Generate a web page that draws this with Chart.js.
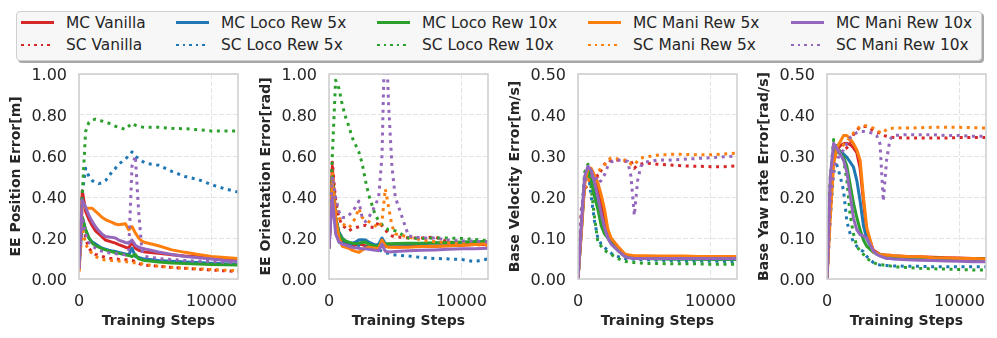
<!DOCTYPE html>
<html>
<head>
<meta charset="utf-8">
<script src="https://cdn.jsdelivr.net/npm/chart.js@4.4.0/dist/chart.umd.min.js"></script>
<style>
    html, body { margin: 0; padding: 0; background: #fff; }
    body { width: 997px; height: 338px; position: relative; overflow: hidden; font-family: 'DejaVu Sans', sans-serif; }
    canvas.panel { position: absolute; top: 62px; }
    #legend {
        position: absolute; left: 16px; top: 11px; width: 964px; height: 48px;
        border: 1px solid #cfcfcf; border-radius: 4px; background: #f7f7f7;
        box-shadow: 2px 2px 0 #a8a8a8;
    }
    .item { position: absolute; display: flex; align-items: center; height: 20px; font-size: 15.4px; color: #262626; white-space: nowrap; }
    .swatch { width: 33px; height: 2.8px; margin-right: 12px; }
</style>
</head>
<body>
<div id="legend"></div>
<canvas class="panel" id="c1" width="248" height="276" style="left:0px"></canvas>
<canvas class="panel" id="c2" width="248" height="276" style="left:250px"></canvas>
<canvas class="panel" id="c3" width="248" height="276" style="left:499px"></canvas>
<canvas class="panel" id="c4" width="248" height="276" style="left:748px"></canvas>
<script>
// sumbu x bersama untuk semua panel
const STEPS = [0, 250, 500, 750, 1000, 1250, 1500, 1750, 2000, 2250, 2500, 2750, 3000, 3500, 3750,
    4000, 4250, 4500, 4750, 5000, 6000, 7000, 8000, 9000, 10000, 11000, 12000];
const X_TICKS = [0, 10000];
const EE_TICKS = [0, 0.2, 0.4, 0.6, 0.8, 1.0];
const BASE_TICKS = [0, 0.1, 0.2, 0.3, 0.4, 0.5];

const METHODS = ['Vanilla', 'Loco Rew 5x', 'Loco Rew 10x', 'Mani Rew 5x', 'Mani Rew 10x'];
const COLORS = ['#d62728', '#1f77b4', '#2ca02c', '#ff7f0e', '#9467bd'];

// 1. EE Position Error
const posMcVanilla = [0.05, 0.43, 0.33, 0.29, 0.26, 0.235, 0.22, 0.205, 0.19, 0.185, 0.18, 0.175, 0.168, 0.155, 0.15, 0.18, 0.15, 0.14, 0.135, 0.132, 0.125, 0.118, 0.112, 0.108, 0.105, 0.1, 0.098];
const posScVanilla = [0.05, 0.3, 0.2, 0.15, 0.13, 0.12, 0.115, 0.11, 0.105, 0.1, 0.1, 0.098, 0.096, 0.094, 0.093, 0.09, 0.085, 0.075, 0.07, 0.068, 0.062, 0.056, 0.052, 0.048, 0.044, 0.04, 0.036];
const posMcLoco5 = [0.05, 0.3, 0.24, 0.2, 0.18, 0.17, 0.16, 0.15, 0.145, 0.14, 0.137, 0.134, 0.13, 0.122, 0.118, 0.15, 0.11, 0.105, 0.1, 0.097, 0.09, 0.087, 0.083, 0.08, 0.077, 0.074, 0.072];
const posScLoco5 = [0.05, 0.42, 0.54, 0.5, 0.48, 0.47, 0.465, 0.47, 0.48, 0.5, 0.525, 0.54, 0.56, 0.585, 0.6, 0.62, 0.6, 0.585, 0.575, 0.565, 0.555, 0.525, 0.5, 0.485, 0.46, 0.44, 0.424];
const posMcLoco10 = [0.05, 0.3, 0.24, 0.2, 0.175, 0.162, 0.155, 0.148, 0.142, 0.137, 0.133, 0.128, 0.125, 0.118, 0.115, 0.11, 0.12, 0.098, 0.093, 0.09, 0.083, 0.078, 0.075, 0.073, 0.071, 0.069, 0.068];
const posScLoco10 = [0.05, 0.42, 0.72, 0.765, 0.775, 0.78, 0.775, 0.77, 0.765, 0.76, 0.755, 0.745, 0.74, 0.73, 0.745, 0.76, 0.75, 0.745, 0.742, 0.74, 0.74, 0.735, 0.733, 0.728, 0.722, 0.722, 0.722];
const posMcMani5 = [0.035, 0.37, 0.345, 0.345, 0.345, 0.33, 0.315, 0.3, 0.29, 0.282, 0.276, 0.268, 0.265, 0.27, 0.24, 0.256, 0.225, 0.2, 0.185, 0.178, 0.162, 0.142, 0.13, 0.12, 0.11, 0.105, 0.1];
const posScMani5 = [0.04, 0.25, 0.17, 0.14, 0.125, 0.11, 0.1, 0.095, 0.093, 0.092, 0.09, 0.09, 0.088, 0.085, 0.082, 0.08, 0.079, 0.077, 0.074, 0.07, 0.062, 0.057, 0.053, 0.05, 0.046, 0.043, 0.04];
const posMcMani10 = [0.05, 0.385, 0.35, 0.31, 0.28, 0.255, 0.235, 0.218, 0.207, 0.205, 0.203, 0.2, 0.19, 0.178, 0.174, 0.19, 0.165, 0.155, 0.15, 0.146, 0.132, 0.12, 0.11, 0.104, 0.097, 0.09, 0.085];
const posScMani10 = [0.05, 0.3, 0.22, 0.18, 0.16, 0.15, 0.14, 0.135, 0.13, 0.128, 0.126, 0.124, 0.12, 0.118, 0.14, 0.55, 0.6, 0.33, 0.14, 0.11, 0.1, 0.095, 0.09, 0.087, 0.085, 0.082, 0.08];

// 2. EE Orientation Error
const oriMcVanilla = [0.15, 0.55, 0.3, 0.22, 0.19, 0.175, 0.17, 0.165, 0.165, 0.17, 0.168, 0.162, 0.155, 0.15, 0.152, 0.18, 0.16, 0.158, 0.157, 0.156, 0.158, 0.16, 0.16, 0.162, 0.165, 0.168, 0.17];
const oriScVanilla = [0.15, 0.57, 0.38, 0.3, 0.26, 0.25, 0.235, 0.245, 0.25, 0.255, 0.26, 0.262, 0.255, 0.25, 0.28, 0.26, 0.24, 0.22, 0.21, 0.207, 0.2, 0.2, 0.205, 0.18, 0.175, 0.17, 0.166];
const oriMcLoco5 = [0.15, 0.45, 0.3, 0.23, 0.2, 0.185, 0.175, 0.175, 0.18, 0.19, 0.192, 0.19, 0.18, 0.165, 0.17, 0.2, 0.172, 0.17, 0.17, 0.17, 0.17, 0.172, 0.175, 0.175, 0.178, 0.18, 0.18];
const oriScLoco5 = [0.15, 0.42, 0.26, 0.2, 0.18, 0.175, 0.17, 0.168, 0.166, 0.163, 0.16, 0.157, 0.155, 0.15, 0.145, 0.135, 0.128, 0.125, 0.12, 0.117, 0.112, 0.105, 0.1, 0.098, 0.095, 0.085, 0.098];
const oriMcLoco10 = [0.15, 0.5, 0.3, 0.22, 0.195, 0.185, 0.18, 0.175, 0.172, 0.175, 0.178, 0.18, 0.17, 0.16, 0.162, 0.185, 0.17, 0.172, 0.172, 0.173, 0.175, 0.175, 0.177, 0.178, 0.18, 0.182, 0.183];
const oriScLoco10 = [0.15, 0.6, 0.97, 0.93, 0.85, 0.79, 0.745, 0.69, 0.655, 0.62, 0.565, 0.48, 0.41, 0.31, 0.285, 0.265, 0.25, 0.24, 0.24, 0.235, 0.2, 0.198, 0.2, 0.2, 0.198, 0.193, 0.186];
const oriMcMani5 = [0.15, 0.47, 0.3, 0.2, 0.16, 0.155, 0.15, 0.14, 0.135, 0.13, 0.14, 0.15, 0.155, 0.15, 0.15, 0.19, 0.16, 0.155, 0.155, 0.155, 0.155, 0.158, 0.16, 0.162, 0.165, 0.168, 0.172];
const oriScMani5 = [0.15, 0.52, 0.37, 0.3, 0.27, 0.26, 0.25, 0.27, 0.3, 0.345, 0.3, 0.29, 0.28, 0.26, 0.25, 0.28, 0.44, 0.35, 0.26, 0.22, 0.205, 0.19, 0.182, 0.178, 0.174, 0.168, 0.163];
const oriMcMani10 = [0.15, 0.4, 0.22, 0.18, 0.17, 0.165, 0.16, 0.155, 0.152, 0.15, 0.148, 0.147, 0.145, 0.14, 0.138, 0.17, 0.135, 0.132, 0.133, 0.134, 0.138, 0.14, 0.142, 0.145, 0.147, 0.148, 0.15];
const oriScMani10 = [0.15, 0.5, 0.4, 0.33, 0.3, 0.3, 0.31, 0.33, 0.35, 0.38, 0.3, 0.28, 0.3, 0.36, 0.4, 0.6, 1.3, 0.85, 0.55, 0.4, 0.21, 0.2, 0.2, 0.19, 0.185, 0.185, 0.18];

// 3. Base Velocity Error
const velMcVanilla = [0, 0.12, 0.24, 0.265, 0.26, 0.24, 0.215, 0.18, 0.14, 0.11, 0.095, 0.085, 0.075, 0.06, 0.057, 0.056, 0.055, 0.055, 0.055, 0.054, 0.054, 0.053, 0.053, 0.053, 0.053, 0.053, 0.053];
const velScVanilla = [0, 0.17, 0.22, 0.23, 0.25, 0.262, 0.25, 0.265, 0.28, 0.29, 0.288, 0.29, 0.29, 0.288, 0.285, 0.287, 0.27, 0.278, 0.28, 0.283, 0.28, 0.278, 0.276, 0.275, 0.274, 0.274, 0.276];
const velMcLoco5 = [0, 0.12, 0.24, 0.26, 0.245, 0.21, 0.18, 0.14, 0.12, 0.1, 0.088, 0.078, 0.07, 0.057, 0.054, 0.052, 0.051, 0.051, 0.05, 0.05, 0.05, 0.049, 0.049, 0.049, 0.048, 0.048, 0.048];
const velScLoco5 = [0, 0.13, 0.25, 0.265, 0.2, 0.14, 0.1, 0.085, 0.077, 0.07, 0.063, 0.058, 0.055, 0.05, 0.049, 0.049, 0.048, 0.048, 0.047, 0.047, 0.046, 0.045, 0.044, 0.044, 0.043, 0.043, 0.042];
const velMcLoco10 = [0, 0.12, 0.24, 0.26, 0.24, 0.2, 0.17, 0.13, 0.11, 0.1, 0.088, 0.078, 0.07, 0.056, 0.053, 0.052, 0.051, 0.05, 0.05, 0.05, 0.049, 0.049, 0.049, 0.048, 0.048, 0.048, 0.048];
const velScLoco10 = [0, 0.14, 0.26, 0.28, 0.22, 0.15, 0.09, 0.08, 0.07, 0.065, 0.06, 0.055, 0.05, 0.043, 0.042, 0.04, 0.04, 0.039, 0.039, 0.038, 0.038, 0.037, 0.037, 0.037, 0.036, 0.036, 0.036];
const velMcMani5 = [0, 0.11, 0.23, 0.27, 0.27, 0.252, 0.235, 0.205, 0.17, 0.122, 0.1, 0.09, 0.08, 0.062, 0.059, 0.058, 0.057, 0.057, 0.057, 0.057, 0.056, 0.056, 0.056, 0.055, 0.055, 0.055, 0.055];
const velScMani5 = [0, 0.15, 0.22, 0.24, 0.25, 0.254, 0.262, 0.27, 0.278, 0.29, 0.295, 0.294, 0.293, 0.29, 0.29, 0.28, 0.278, 0.288, 0.295, 0.297, 0.302, 0.304, 0.304, 0.303, 0.303, 0.305, 0.307];
const velMcMani10 = [0, 0.13, 0.25, 0.275, 0.265, 0.235, 0.2, 0.16, 0.125, 0.1, 0.085, 0.078, 0.07, 0.056, 0.052, 0.051, 0.05, 0.05, 0.05, 0.05, 0.05, 0.05, 0.05, 0.05, 0.05, 0.05, 0.05];
const velScMani10 = [0, 0.16, 0.24, 0.25, 0.25, 0.255, 0.235, 0.24, 0.254, 0.275, 0.285, 0.29, 0.29, 0.288, 0.287, 0.25, 0.155, 0.24, 0.275, 0.285, 0.29, 0.29, 0.292, 0.294, 0.296, 0.298, 0.3];

// 4. Base Yaw rate Error
const yawMcVanilla = [0, 0.2, 0.3, 0.315, 0.325, 0.33, 0.331, 0.328, 0.32, 0.308, 0.27, 0.19, 0.115, 0.07, 0.065, 0.06, 0.059, 0.058, 0.058, 0.057, 0.055, 0.054, 0.053, 0.052, 0.051, 0.05, 0.05];
const yawScVanilla = [0, 0.24, 0.295, 0.3, 0.311, 0.315, 0.32, 0.33, 0.352, 0.362, 0.372, 0.372, 0.372, 0.362, 0.358, 0.356, 0.35, 0.348, 0.346, 0.345, 0.344, 0.344, 0.344, 0.344, 0.345, 0.345, 0.345];
const yawMcLoco5 = [0, 0.2, 0.31, 0.318, 0.312, 0.305, 0.297, 0.285, 0.273, 0.24, 0.19, 0.13, 0.098, 0.066, 0.062, 0.06, 0.058, 0.056, 0.056, 0.055, 0.053, 0.051, 0.05, 0.049, 0.048, 0.047, 0.046];
const yawScLoco5 = [0, 0.15, 0.26, 0.278, 0.25, 0.215, 0.14, 0.11, 0.09, 0.08, 0.072, 0.067, 0.055, 0.04, 0.036, 0.034, 0.033, 0.033, 0.032, 0.032, 0.031, 0.031, 0.03, 0.03, 0.03, 0.03, 0.03];
const yawMcLoco10 = [0, 0.22, 0.315, 0.31, 0.305, 0.298, 0.275, 0.23, 0.185, 0.15, 0.12, 0.095, 0.08, 0.065, 0.062, 0.06, 0.058, 0.056, 0.055, 0.054, 0.053, 0.052, 0.051, 0.05, 0.05, 0.049, 0.049];
const yawScLoco10 = [0.02, 0.25, 0.34, 0.33, 0.31, 0.29, 0.24, 0.155, 0.11, 0.08, 0.068, 0.06, 0.05, 0.04, 0.037, 0.035, 0.034, 0.033, 0.032, 0.03, 0.028, 0.026, 0.025, 0.024, 0.023, 0.022, 0.022];
const yawMcMani5 = [0, 0.15, 0.28, 0.32, 0.335, 0.35, 0.35, 0.342, 0.33, 0.315, 0.29, 0.2, 0.125, 0.066, 0.063, 0.06, 0.059, 0.058, 0.058, 0.057, 0.055, 0.054, 0.052, 0.051, 0.05, 0.05, 0.049];
const yawScMani5 = [0, 0.2, 0.3, 0.31, 0.32, 0.327, 0.335, 0.345, 0.356, 0.365, 0.372, 0.375, 0.373, 0.368, 0.362, 0.358, 0.356, 0.366, 0.367, 0.368, 0.368, 0.369, 0.37, 0.37, 0.37, 0.369, 0.368];
const yawMcMani10 = [0, 0.25, 0.331, 0.318, 0.305, 0.29, 0.26, 0.205, 0.148, 0.12, 0.108, 0.105, 0.1, 0.068, 0.06, 0.056, 0.053, 0.05, 0.05, 0.049, 0.047, 0.046, 0.045, 0.044, 0.043, 0.042, 0.042];
const yawScMani10 = [0, 0.2, 0.27, 0.29, 0.305, 0.315, 0.33, 0.345, 0.352, 0.357, 0.36, 0.36, 0.358, 0.356, 0.35, 0.33, 0.19, 0.29, 0.34, 0.35, 0.352, 0.352, 0.352, 0.35, 0.35, 0.348, 0.348];

const PANELS = [
    { id: 'c1', title: 'EE Position Error[m]', max: 1, ticks: EE_TICKS,
      series: [posMcVanilla, posScVanilla, posMcLoco5, posScLoco5, posMcLoco10, posScLoco10, posMcMani5, posScMani5, posMcMani10, posScMani10] },
    { id: 'c2', title: 'EE Orientation Error[rad]', max: 1, ticks: EE_TICKS,
      series: [oriMcVanilla, oriScVanilla, oriMcLoco5, oriScLoco5, oriMcLoco10, oriScLoco10, oriMcMani5, oriScMani5, oriMcMani10, oriScMani10] },
    { id: 'c3', title: 'Base Velocity Error[m/s]', max: 0.5, ticks: BASE_TICKS,
      series: [velMcVanilla, velScVanilla, velMcLoco5, velScLoco5, velMcLoco10, velScLoco10, velMcMani5, velScMani5, velMcMani10, velScMani10] },
    { id: 'c4', title: 'Base Yaw rate Error[rad/s]', max: 0.5, ticks: BASE_TICKS,
      series: [yawMcVanilla, yawScVanilla, yawMcLoco5, yawScLoco5, yawMcLoco10, yawScLoco10, yawMcMani5, yawScMani5, yawMcMani10, yawScMani10] }
];

const LINE_W = 3;
const DOTS = [3, 4.6];
const TEXT = '#262626';

Chart.defaults.font.family = "'DejaVu Sans', sans-serif";

// bingkai abu-abu di sekeliling area plot
const framePlugin = {
    id: 'frame',
    afterDatasetsDraw(chart) {
        const { ctx, chartArea: a } = chart;
        ctx.save();
        ctx.strokeStyle = '#d0d0d0';
        ctx.lineWidth = 1.6;
        ctx.strokeRect(a.left, a.top, a.right - a.left, a.bottom - a.top);
        ctx.restore();
    }
};

PANELS.forEach(p => {
    new Chart(document.getElementById(p.id), {
        type: 'line',
        data: {
            datasets: p.series.map((vals, k) => ({
                label: (k % 2 ? 'SC ' : 'MC ') + METHODS[k >> 1],
                data: STEPS.map((x, i) => ({ x: x, y: vals[i] })),
                borderColor: COLORS[k >> 1],
                borderWidth: LINE_W,
                borderDash: k % 2 ? DOTS : [],
                borderJoinStyle: 'round',
                pointRadius: 0,
                tension: 0,
                clip: 0,
                order: p.series.length - 1 - k
            }))
        },
        options: {
            responsive: false,
            animation: false,
            devicePixelRatio: 1,
            layout: { padding: { top: 12, right: 10, left: 0, bottom: 0 } },
            plugins: { legend: { display: false }, tooltip: { enabled: false } },
            scales: {
                x: {
                    type: 'linear', min: 0, max: 12000,
                    afterBuildTicks: s => { s.ticks = X_TICKS.map(v => ({ value: v })); },
                    afterFit: s => { s.height = 59; s.paddingLeft = 0; s.paddingRight = 0; },
                    ticks: { callback: v => String(v), color: TEXT, font: { size: 16 }, padding: 13.5, maxRotation: 0 },
                    grid: { color: '#e4e4e4', lineWidth: 1, drawTicks: false },
                    border: { display: false, dash: [5, 2] },
                    title: { display: true, text: 'Training Steps', color: TEXT, font: { size: 14, weight: 'bold' }, padding: { top: 8.5, bottom: 8.5 } }
                },
                y: {
                    min: 0, max: p.max,
                    afterBuildTicks: s => { s.ticks = p.ticks.map(v => ({ value: v })); },
                    afterFit: s => { s.width = 79; s.paddingTop = 0; s.paddingBottom = 0; },
                    ticks: { callback: v => v.toFixed(2), color: TEXT, font: { size: 16 }, padding: 12, labelOffset: 2 },
                    grid: { color: '#e4e4e4', lineWidth: 1, drawTicks: false },
                    border: { display: false, dash: [5, 2] },
                    title: { display: true, text: p.title, color: TEXT, font: { size: 14, weight: 'bold' }, padding: { top: 8, bottom: 8 } }
                }
            }
        },
        plugins: [framePlugin]
    });
});

// legenda bersama di atas, 5 kolom x 2 baris
const LEGEND_COLS = [21, 176, 377, 588, 791];
const LEGEND_ROWS = [22.7, 45];
const legendEl = document.getElementById('legend');
METHODS.forEach((m, c) => {
    ['MC', 'SC'].forEach((kind, r) => {
        const item = document.createElement('div');
        item.className = 'item';
        item.style.left = (LEGEND_COLS[c] - 17) + 'px';
        item.style.top = (LEGEND_ROWS[r] - 12 - 10) + 'px';
        const sw = document.createElement('span');
        sw.className = 'swatch';
        sw.style.background = r === 0 ? COLORS[c]
            : `repeating-linear-gradient(to right, ${COLORS[c]} 0 2.6px, transparent 2.6px 6.6px)`;
        const label = document.createElement('span');
        label.textContent = kind + ' ' + m;
        item.appendChild(sw);
        item.appendChild(label);
        legendEl.appendChild(item);
    });
});
</script>
</body>
</html>
